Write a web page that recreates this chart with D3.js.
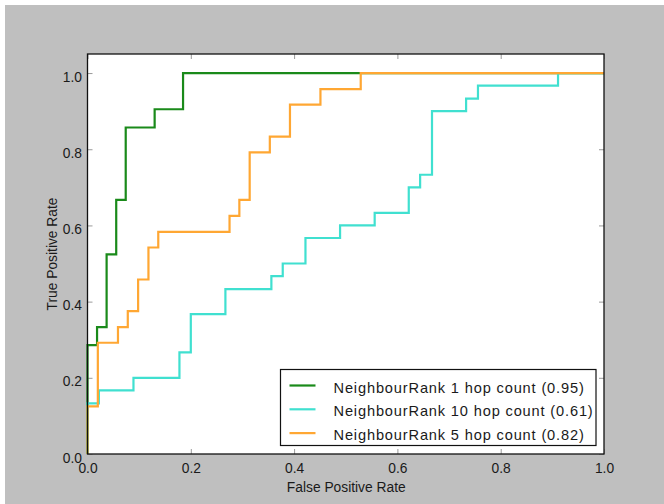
<!DOCTYPE html>
<html>
<head>
<meta charset="utf-8">
<script src="https://cdn.jsdelivr.net/npm/d3@7"></script>
<style>
  html, body { margin: 0; padding: 0; background: #ffffff; }
  svg { display: block; }
  text { font-family: "Liberation Sans", Arial, Helvetica, sans-serif; fill: #1a1a1a; }
</style>
</head>
<body>
<svg id="chart" width="664" height="504"></svg>
<script>
// ---- data ----
const seriesNames = [
  "NeighbourRank 1 hop count (0.95)",
  "NeighbourRank 10 hop count (0.61)",
  "NeighbourRank 5 hop count (0.82)"
];
const seriesColors = ["#1a8a1a", "#40e0d0", "#ffa733"];

// corner points (step-after staircase)
const fpr1  = [0, 0, 0.0185, 0.037, 0.0556, 0.074, 0.130, 0.185, 1.0];
const tpr1  = [0, 0.286, 0.333, 0.524, 0.667, 0.857, 0.905, 1.0, 1.0];

const fpr10 = [0, 0, 0.022, 0.089, 0.178, 0.200, 0.267, 0.356, 0.378, 0.422, 0.489, 0.556, 0.622, 0.644, 0.667, 0.733, 0.756, 0.911, 1.0];
const tpr10 = [0, 0.133, 0.167, 0.200, 0.267, 0.367, 0.433, 0.467, 0.500, 0.567, 0.600, 0.633, 0.700, 0.733, 0.900, 0.933, 0.967, 1.0, 1.0];

const fpr5  = [0, 0, 0.020, 0.059, 0.078, 0.098, 0.118, 0.137, 0.275, 0.294, 0.314, 0.353, 0.392, 0.451, 0.529, 1.0];
const tpr5  = [0, 0.125, 0.292, 0.333, 0.375, 0.458, 0.542, 0.583, 0.625, 0.667, 0.792, 0.833, 0.917, 0.958, 1.0, 1.0];

const xTicks = [0, 0.2, 0.4, 0.6, 0.8, 1.0];
const yTicks = [0, 0.2, 0.4, 0.6, 0.8, 1.0];
const xLabel = "False Positive Rate";
const yLabel = "True Positive Rate";

(function () {
// ---- layout ----
const W = 664, H = 504;
const pLeft = 87.5, pRight = 604, pTop = 54, pBottom = 454;

const svg = d3.select("#chart");

// figure background
svg.append("rect").attr("x", 0).attr("y", 0).attr("width", W).attr("height", H).attr("fill", "#ffffff");
svg.append("rect").attr("x", 5).attr("y", 5).attr("width", W - 5).attr("height", H - 5).attr("fill", "#bfbfbf");

const x = d3.scaleLinear().domain([0, 1]).range([pLeft, pRight]);
const y = d3.scaleLinear().domain([0, 1.05]).range([pBottom, pTop]);

// axes background
svg.append("rect")
  .attr("x", pLeft).attr("y", pTop)
  .attr("width", pRight - pLeft).attr("height", pBottom - pTop)
  .attr("fill", "#ffffff");

// ticks inside (all four sides)
const fmt = d3.format(".1f");
const tickLen = 5;
const gx = svg.append("g").attr("transform", `translate(0,${pBottom})`)
  .call(d3.axisBottom(x).tickValues(xTicks).tickFormat(fmt).tickSizeInner(-tickLen).tickSizeOuter(0).tickPadding(10.5));
const gxt = svg.append("g").attr("transform", `translate(0,${pTop})`)
  .call(d3.axisTop(x).tickValues(xTicks).tickFormat("").tickSizeInner(-tickLen).tickSizeOuter(0));
const gy = svg.append("g").attr("transform", `translate(${pLeft},0)`)
  .call(d3.axisLeft(y).tickValues(yTicks).tickFormat(fmt).tickSizeInner(-tickLen).tickSizeOuter(0).tickPadding(5.5));
const gyr = svg.append("g").attr("transform", `translate(${pRight},0)`)
  .call(d3.axisRight(y).tickValues(yTicks).tickFormat("").tickSizeInner(-tickLen).tickSizeOuter(0));

[gx, gxt, gy, gyr].forEach(g => {
  g.select(".domain").remove();
  g.selectAll(".tick line").attr("stroke", "#9a9a9a").attr("stroke-width", 1);
  g.selectAll("text").attr("font-size", 13.8).attr("fill", "#1a1a2a")
    .attr("font-family", "'Liberation Sans', Arial, sans-serif");
});
gy.selectAll("text").attr("dy", "0.58em");
gx.selectAll("text").attr("dy", "0.62em");

// curves
const line = d3.line().x(d => x(d[0])).y(d => y(d[1])).curve(d3.curveStepAfter);
const series = [
  { f: fpr1, t: tpr1 },
  { f: fpr10, t: tpr10 },
  { f: fpr5, t: tpr5 }
];
const plot = svg.append("g");
series.forEach((s, i) => {
  const pts = s.f.map((v, j) => [v, s.t[j]]);
  plot.append("path")
    .attr("d", line(pts))
    .attr("fill", "none")
    .attr("stroke", seriesColors[i])
    .attr("stroke-width", 2.2)
    .attr("stroke-linejoin", "miter");
});

// frame
svg.append("rect")
  .attr("x", pLeft).attr("y", pTop)
  .attr("width", pRight - pLeft).attr("height", pBottom - pTop)
  .attr("fill", "none").attr("stroke", "#111").attr("stroke-width", 1.3);

// axis titles
svg.append("text")
  .attr("x", (pLeft + pRight) / 2 + 0.5).attr("y", 492)
  .attr("text-anchor", "middle").attr("font-size", 13.8)
  .text(xLabel);
svg.append("text")
  .attr("transform", `translate(57,${(pTop + pBottom) / 2}) rotate(-90)`)
  .attr("text-anchor", "middle").attr("font-size", 13.8)
  .text(yLabel);

// legend
const lg = svg.append("g");
lg.append("rect")
  .attr("x", 280.5).attr("y", 369.5).attr("width", 315.5).attr("height", 76)
  .attr("fill", "#ffffff").attr("stroke", "#111").attr("stroke-width", 1.2);
seriesNames.forEach((name, i) => {
  const ly = 385.5 + i * 23.8;
  lg.append("line")
    .attr("x1", 289.5).attr("x2", 315.5)
    .attr("y1", ly).attr("y2", ly)
    .attr("stroke", seriesColors[i]).attr("stroke-width", 2.2);
  lg.append("text")
    .attr("x", 333.5).attr("y", ly + 7)
    .attr("font-size", 14.6).attr("letter-spacing", 0.85)
    .text(name);
});
})();
</script>
</body>
</html>
